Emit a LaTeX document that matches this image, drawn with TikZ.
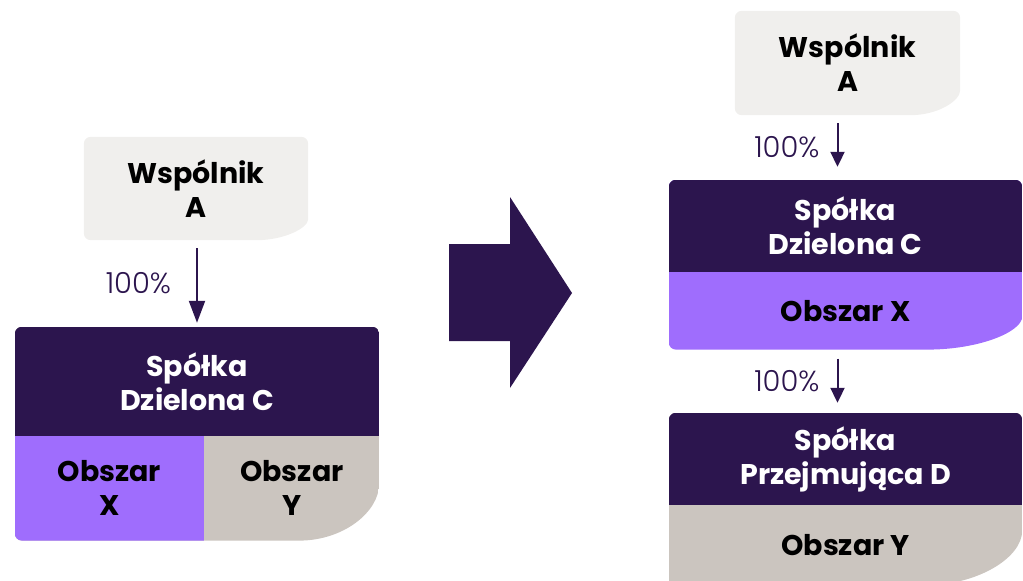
\documentclass[tikz,border=0pt]{standalone}
\usepackage{fontspec}
\setmainfont{Poppins}
\newfontfamily\pctfont{Poppins Light}
\usepackage{tikz}
\usetikzlibrary{positioning,arrows.meta,calc,backgrounds}
\definecolor{plum1}{HTML}{2C154E}
\definecolor{violet1}{HTML}{9F6DFD}
\definecolor{stone1}{HTML}{CBC5BF}
\definecolor{mist1}{HTML}{F0EFED}

% outline: small corners, one wide curved corner bottom right
\newcommand{\blobpath}[4]{%
  [rounded corners=7pt] ($(#1 -| #2)+(-#3,0)$) -- (#1) -- (#1 |- #2)
  -- (#2) -- ($(#2 |- #1)+(0,#4)$) [sharp corners]
  arc[start angle=0, end angle=-90, x radius=#3, y radius=#4] -- cycle}

\begin{document}
\begin{tikzpicture}[
    x=1pt, y=1pt,
    part/.style={inner sep=0pt, align=center, text=black,
                 font=\bfseries\fontsize{28.5}{34}\selectfont},
    dark/.style={part, text=white},
    own/.style={-{Triangle[length=22pt,width=16pt]}, line width=2pt,
                draw=plum1},
    pct/.style={inner sep=0pt, text=plum1,
                font=\pctfont\fontsize{29}{32}\selectfont},
]
\useasboundingbox (0,0) rectangle (1023,-581);

% ── before ──
\node[part, minimum width=224pt, minimum height=103pt]
    (wsA1) at (196,-188.5) {Wspólnik\\A};
\node[dark, minimum width=364pt, minimum height=109pt]
    (dzC1) at (197,-381.5) {Spółka\\Dzielona C};
\node[part, minimum width=189pt, minimum height=104pt,
      below right=0pt of dzC1.south west] (obX1) {Obszar\\X};
\node[part, minimum width=175pt, minimum height=104pt,
      right=0pt of obX1] (obY1) {Obszar\\Y};

% ── after ──
\node[part, minimum width=225pt, minimum height=104pt]
    (wsA2) at (847.5,-63) {Wspólnik\\A};
\node[dark, minimum width=353pt, minimum height=92pt]
    (dzC2) at (845.5,-226) {Spółka\\Dzielona C};
\node[part, minimum width=353pt, minimum height=77pt,
      below=0pt of dzC2] (obX2) {Obszar X};
\node[dark, minimum width=353pt, minimum height=92pt]
    (pjD) at (845.5,-459) {Spółka\\Przejmująca D};
\node[part, minimum width=353pt, minimum height=80pt,
      below=0pt of pjD] (obY2) {Obszar Y};

% ── fills ──
\begin{scope}[on background layer]
  \fill[mist1] \blobpath{wsA1.south west}{wsA1.north east}{52}{28};
  \begin{scope}
    \clip \blobpath{obX1.south west}{dzC1.north east}{80}{64};
    \fill[stone1] (obX1.south west) rectangle (dzC1.north east);
    \fill[violet1] (obX1.south west) rectangle (obX1.north east);
    \fill[plum1] (dzC1.south west) rectangle (dzC1.north east);
  \end{scope}
  \fill[mist1] \blobpath{wsA2.south west}{wsA2.north east}{50}{32};
  \begin{scope}
    \clip \blobpath{obX2.south west}{dzC2.north east}{95}{40};
    \fill[violet1] (obX2.south west) rectangle (dzC2.north east);
    \fill[plum1] (dzC2.south west) rectangle (dzC2.north east);
  \end{scope}
  \begin{scope}
    \clip \blobpath{obY2.south west}{pjD.north east}{100}{62};
    \fill[stone1] (obY2.south west) rectangle (pjD.north east);
    \fill[plum1] (pjD.south west) rectangle (pjD.north east);
  \end{scope}
\end{scope}

% ── big arrow ──
\fill[plum1] (449,-244) -- (510,-244) -- (510,-197) -- (572,-293)
    -- (510,-388) -- (510,-341) -- (449,-341) -- cycle;

% ── shares ──
\draw[own, shorten <=8pt, shorten >=4pt]
    (wsA1.south -| dzC1.north) -- node[pct, left=25pt] {100\%} (dzC1.north);
\draw[own, -{Triangle[length=15pt,width=14pt]}, shorten <=8pt, shorten >=13pt]
    ($(wsA2.south)+(-10,0)$) -- node[pct, left=17pt] {100\%}
    ($(wsA2.south |- dzC2.north)+(-10,0)$);
\draw[own, -{Triangle[length=15pt,width=14pt]}, shorten <=9pt, shorten >=10pt]
    ($(obX2.south)+(-8,0)$) -- node[pct, left=17pt] {100\%}
    ($(obX2.south |- pjD.north)+(-8,0)$);

\end{tikzpicture}
\end{document}
